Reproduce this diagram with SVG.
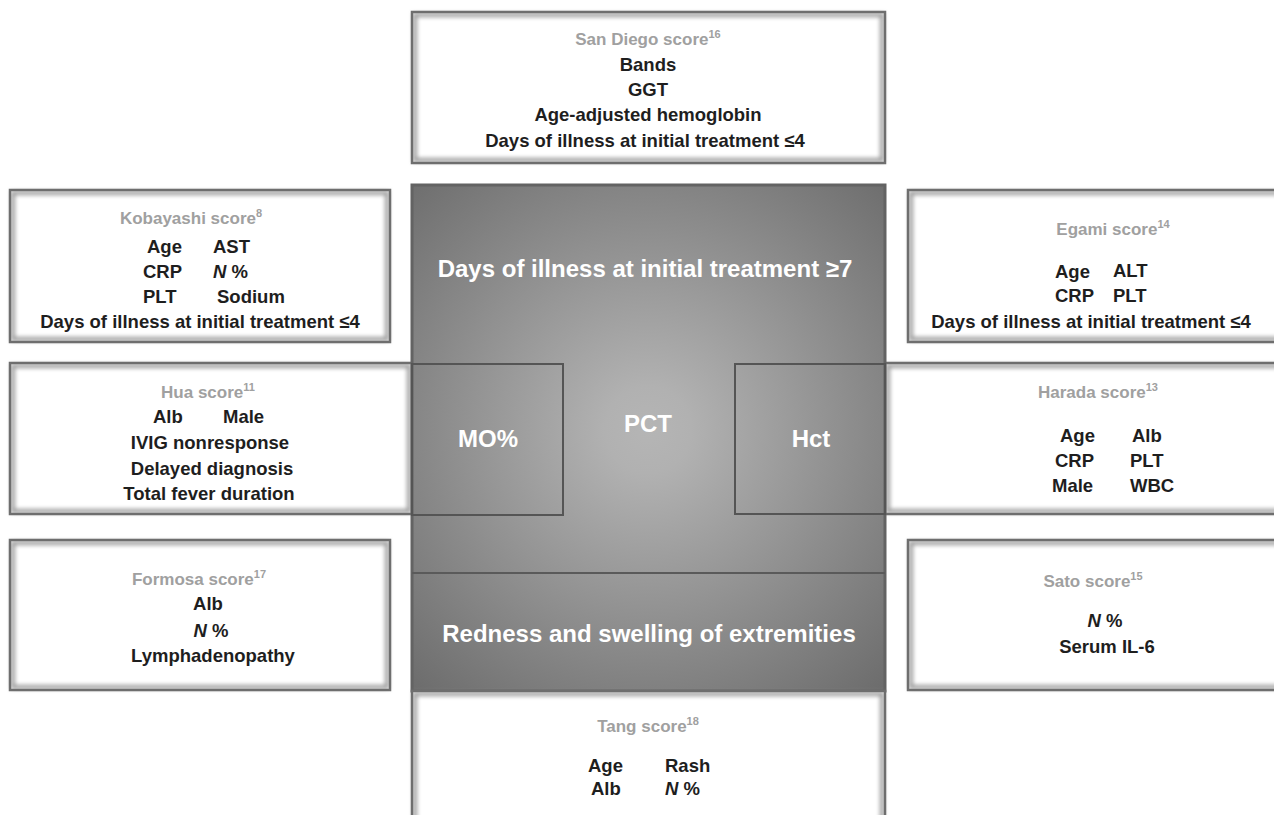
<svg xmlns="http://www.w3.org/2000/svg" width="1274" height="815" viewBox="0 0 1274 815">
<style>
  text { font-family: "Liberation Sans", Arial, Helvetica, sans-serif; font-weight: bold; }
  .box { fill: #ffffff; stroke: none; }
  .edge { fill: none; stroke: #6e6e6e; stroke-width: 2.5; }
  .glow { fill: none; stroke: #9a9a9a; stroke-width: 4; }
  .ttl { fill: #a0a0a0; font-size: 17px; }
  .b { fill: #1e1e1e; font-size: 18.5px; }
  .c { text-anchor: middle; }
  .sup { font-size: 11px; }
  .w { fill: #ffffff; font-size: 24px; text-anchor: middle; }
  .inner { fill: none; stroke: #555555; stroke-width: 2; }
</style>
<defs>
  <filter id="soft" x="-5%" y="-5%" width="110%" height="110%">
    <feGaussianBlur stdDeviation="2"/>
  </filter>
  <radialGradient id="cg" gradientUnits="userSpaceOnUse" cx="648" cy="430" r="360">
    <stop offset="0" stop-color="#b5b5b5"/>
    <stop offset="0.12" stop-color="#b1b1b1"/>
    <stop offset="1" stop-color="#6a6a6a"/>
  </radialGradient>
</defs>
<rect width="1274" height="815" fill="#ffffff"/>

<g id="hua">
  <rect class="box" x="10" y="363" width="402" height="151"/>
  <rect class="glow" filter="url(#soft)" x="13" y="366" width="396" height="145"/>
  <rect class="edge" x="10" y="363" width="402" height="151"/>
  <text class="ttl c" x="208" y="398">Hua score<tspan class="sup" dy="-7">11</tspan></text>
  <text class="b" x="153" y="423">Alb</text>
  <text class="b" x="223" y="423">Male</text>
  <text class="b c" x="210" y="449">IVIG nonresponse</text>
  <text class="b c" x="212" y="475">Delayed diagnosis</text>
  <text class="b c" x="209" y="500">Total fever duration</text>
</g>

<g id="harada">
  <rect class="box" x="885" y="363" width="405" height="151"/>
  <rect class="glow" filter="url(#soft)" x="888" y="366" width="399" height="145"/>
  <rect class="edge" x="885" y="363" width="405" height="151"/>
  <text class="ttl c" x="1098" y="398">Harada score<tspan class="sup" dy="-7">13</tspan></text>
  <text class="b" x="1060" y="442">Age</text>
  <text class="b" x="1132" y="442">Alb</text>
  <text class="b" x="1055" y="467">CRP</text>
  <text class="b" x="1130" y="467">PLT</text>
  <text class="b" x="1052" y="492">Male</text>
  <text class="b" x="1130" y="492">WBC</text>
</g>

<g id="center">
  <rect x="412" y="185" width="473" height="506" fill="url(#cg)" stroke="#636363" stroke-width="3"/>
  <line x1="412" y1="573" x2="885" y2="573" stroke="#5a5a5a" stroke-width="2"/>
  <text class="w" x="645" y="277" font-size="25">Days of illness at initial treatment ≥7</text>
  <text class="w" x="648" y="432">PCT</text>
  <text class="w" x="649" y="642">Redness and swelling of extremities</text>
</g>

<g id="mo">
  <rect class="inner" x="412" y="364" width="151" height="151"/>
  <text class="w" x="488" y="447">MO%</text>
</g>

<g id="hct">
  <rect class="inner" x="735" y="364" width="150" height="150"/>
  <text class="w" x="811" y="447">Hct</text>
</g>

<g id="sandiego">
  <rect class="box" x="412" y="12" width="473" height="151"/>
  <rect class="glow" filter="url(#soft)" x="415" y="15" width="467" height="145"/>
  <rect class="edge" x="412" y="12" width="473" height="151"/>
  <text class="ttl c" x="648" y="45">San Diego score<tspan class="sup" dy="-7">16</tspan></text>
  <text class="b c" x="648" y="71">Bands</text>
  <text class="b c" x="648" y="96">GGT</text>
  <text class="b c" x="648" y="121">Age-adjusted hemoglobin</text>
  <text class="b c" x="645" y="147">Days of illness at initial treatment ≤4</text>
</g>

<g id="kobayashi">
  <rect class="box" x="10" y="190" width="380" height="152"/>
  <rect class="glow" filter="url(#soft)" x="13" y="193" width="374" height="146"/>
  <rect class="edge" x="10" y="190" width="380" height="152"/>
  <text class="ttl c" x="191" y="224">Kobayashi score<tspan class="sup" dy="-7">8</tspan></text>
  <text class="b" x="147" y="253">Age</text>
  <text class="b" x="213" y="253">AST</text>
  <text class="b" x="143" y="278">CRP</text>
  <text class="b" x="213" y="278"><tspan font-style="italic">N</tspan> %</text>
  <text class="b" x="143" y="303">PLT</text>
  <text class="b" x="217" y="303">Sodium</text>
  <text class="b c" x="200" y="328">Days of illness at initial treatment ≤4</text>
</g>

<g id="egami">
  <rect class="box" x="908" y="190" width="382" height="152"/>
  <rect class="glow" filter="url(#soft)" x="911" y="193" width="376" height="146"/>
  <rect class="edge" x="908" y="190" width="382" height="152"/>
  <text class="ttl c" x="1113" y="235">Egami score<tspan class="sup" dy="-7">14</tspan></text>
  <text class="b" x="1055" y="278">Age</text>
  <text class="b" x="1113" y="277">ALT</text>
  <text class="b" x="1055" y="302">CRP</text>
  <text class="b" x="1113" y="302">PLT</text>
  <text class="b c" x="1091" y="328">Days of illness at initial treatment ≤4</text>
</g>

<g id="formosa">
  <rect class="box" x="10" y="540" width="380" height="150"/>
  <rect class="glow" filter="url(#soft)" x="13" y="543" width="374" height="144"/>
  <rect class="edge" x="10" y="540" width="380" height="150"/>
  <text class="ttl c" x="199" y="585">Formosa score<tspan class="sup" dy="-7">17</tspan></text>
  <text class="b c" x="208" y="610">Alb</text>
  <text class="b c" x="211" y="637"><tspan font-style="italic">N</tspan> %</text>
  <text class="b c" x="213" y="662">Lymphadenopathy</text>
</g>

<g id="sato">
  <rect class="box" x="908" y="540" width="382" height="150"/>
  <rect class="glow" filter="url(#soft)" x="911" y="543" width="376" height="144"/>
  <rect class="edge" x="908" y="540" width="382" height="150"/>
  <text class="ttl c" x="1093" y="587">Sato score<tspan class="sup" dy="-7">15</tspan></text>
  <text class="b c" x="1105" y="627"><tspan font-style="italic">N</tspan> %</text>
  <text class="b c" x="1107" y="653">Serum IL-6</text>
</g>

<g id="tang">
  <rect class="box" x="412" y="691" width="473" height="140"/>
  <rect class="glow" filter="url(#soft)" x="415" y="694" width="467" height="134"/>
  <rect class="edge" x="412" y="691" width="473" height="140"/>
  <text class="ttl c" x="648" y="732">Tang score<tspan class="sup" dy="-7">18</tspan></text>
  <text class="b" x="588" y="772">Age</text>
  <text class="b" x="665" y="772">Rash</text>
  <text class="b" x="591" y="795">Alb</text>
  <text class="b" x="665" y="795"><tspan font-style="italic">N</tspan> %</text>
</g>
</svg>
